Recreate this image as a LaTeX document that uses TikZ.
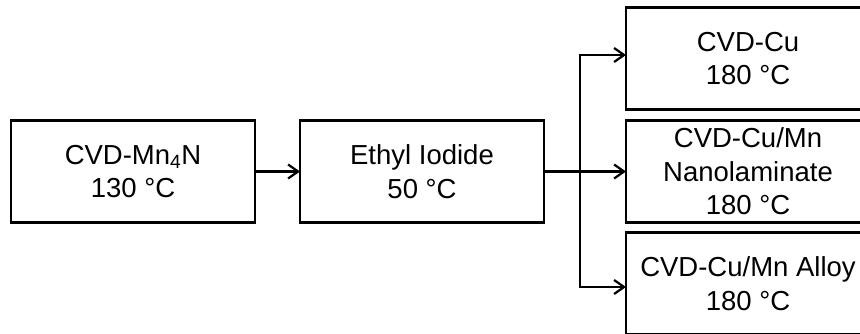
\documentclass[tikz,border=0pt]{standalone}
\usepackage{fontspec}
\setmainfont{Liberation Sans}
\usepackage{tikz}
\usetikzlibrary{positioning,arrows.meta}

\begin{document}
\begin{tikzpicture}[x=1pt,y=1pt,
box/.style={draw,line width=2.2pt,align=center,outer sep=0pt,minimum width=244pt,minimum height=102pt,font=\fontsize{27.5}{33.5}\selectfont},
arrow/.style={-{Straight Barb[length=10pt,width=14pt]},line width=2.2pt}]
\useasboundingbox (0,0) rectangle (860,333);
\clip (0,0) rectangle (860,333);
\node[box] (mn) at (133,161.5) {CVD-Mn\textsubscript{4}N\\130 °C};
\node[box,right=45pt of mn] (ethyl) {Ethyl Iodide\\50 °C};
\node[box,right=82pt of ethyl] (culam) {CVD-Cu/Mn\\Nanolaminate\\180 °C};
\node[box,above=11pt of culam] (cu) {CVD-Cu\\180 °C};
\node[box,below=10pt of culam] (alloy) {CVD-Cu/Mn Alloy\\180 °C};
\coordinate[right=36pt of ethyl.east] (split);
\draw[arrow](mn)--(ethyl);\draw[arrow](ethyl)--(culam);
\draw[arrow](split)|-([yshift=3.5pt]cu.west);\draw[arrow](split)|-([yshift=-3.5pt]alloy.west);
\end{tikzpicture}
\end{document}
